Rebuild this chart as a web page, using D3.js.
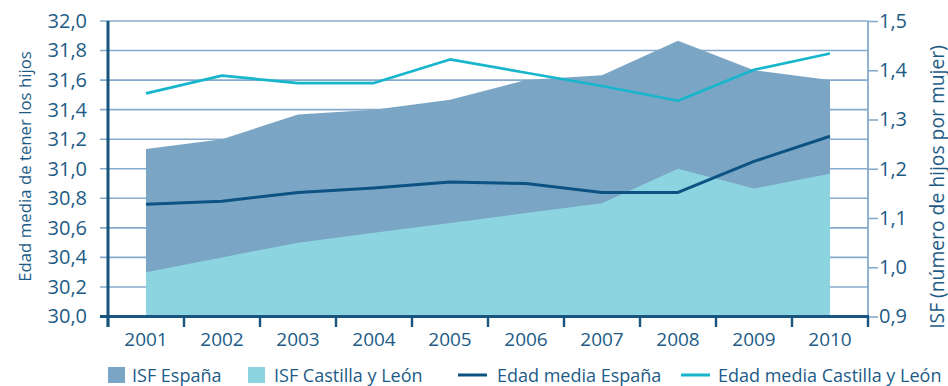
<!DOCTYPE html>
<html>
<head>
<meta charset="utf-8">
<script src="https://cdn.jsdelivr.net/npm/d3@7"></script>
<style>
  html, body { margin: 0; padding: 0; background: #fff; }
  svg { display: block; font-family: "Open Sans", sans-serif; }
</style>
</head>
<body>
<svg id="chart" width="948" height="386"></svg>
<script>
// Years on the horizontal axis
const years = ["2001", "2002", "2003", "2004", "2005", "2006", "2007", "2008", "2009", "2010"];

// Total fertility rate (children per woman), right axis
const isfEspana = [1.24, 1.26, 1.31, 1.32, 1.34, 1.38, 1.39, 1.46, 1.40, 1.38];
const isfCastillaLeon = [0.99, 1.02, 1.05, 1.07, 1.09, 1.11, 1.13, 1.20, 1.16, 1.19];

// Mean age of mothers at childbirth, left axis
const edadEspana = [30.76, 30.78, 30.84, 30.87, 30.91, 30.90, 30.84, 30.84, 31.05, 31.22];
const edadCastillaLeon = [31.51, 31.63, 31.58, 31.58, 31.74, 31.65, 31.56, 31.46, 31.67, 31.78];

// Axis ticks
const leftTicks = [30.0, 30.2, 30.4, 30.6, 30.8, 31.0, 31.2, 31.4, 31.6, 31.8, 32.0];
const rightTicks = [0.9, 1.0, 1.1, 1.2, 1.3, 1.4, 1.5];

const legendLabels = ["ISF España", "ISF Castilla y León", "Edad media España", "Edad media Castilla y León"];

const C = {
  text: "#1d5b86",
  grid: "#86aacb",
  axisDark: "#17557f",
  areaEs: "#7ba5c5",
  areaCyL: "#8cd5e0",
  lineEs: "#0c5283",
  lineCyL: "#17b6cd"
};

const es = d3.formatLocale({ decimal: ",", thousands: ".", grouping: [3], currency: ["", "€"] });
const fmt = es.format(".1f");

const svg = d3.select("#chart");
const plotL = 108, plotR = 868, plotT = 21, plotB = 316.5;

const x = d3.scaleBand().domain(years).range([plotL, plotR]).padding(0);
const cx = d => x(d) + x.bandwidth() / 2;
const yL = d3.scaleLinear().domain([30, 32]).range([plotB, plotT]);
const yR = d3.scaleLinear().domain([0.9, 1.5]).range([plotB, plotT]);

// Horizontal gridlines (extend slightly left as tick marks)
svg.append("g")
  .selectAll("line")
  .data(leftTicks.slice(1))
  .join("line")
  .attr("x1", plotL - 8).attr("x2", plotR)
  .attr("y1", d => yL(d)).attr("y2", d => yL(d))
  .attr("stroke", C.grid).attr("stroke-width", 1.6);

// Fertility areas
const areaGen = d3.area()
  .x((d, i) => cx(years[i]))
  .y0(yR(0.9))
  .y1(d => yR(d));
svg.append("path").datum(isfEspana).attr("d", areaGen).attr("fill", C.areaEs);
svg.append("path").datum(isfCastillaLeon).attr("d", areaGen).attr("fill", C.areaCyL);

// Mean age lines
const lineL = d3.line().x((d, i) => cx(years[i])).y(d => yL(d));
svg.append("path").datum(edadEspana).attr("d", lineL)
  .attr("fill", "none").attr("stroke", C.lineEs).attr("stroke-width", 3).attr("stroke-linejoin", "round");
svg.append("path").datum(edadCastillaLeon).attr("d", lineL)
  .attr("fill", "none").attr("stroke", C.lineCyL).attr("stroke-width", 2.7).attr("stroke-linejoin", "round");

// Right axis
const axR = svg.append("g").attr("transform", `translate(${plotR},0)`)
  .call(d3.axisRight(yR).tickValues(rightTicks).tickFormat(fmt).tickSize(10).tickPadding(1));
axR.select(".domain").attr("stroke", C.grid).attr("stroke-width", 1.8).attr("d", `M0,${plotT}V${plotB}`);
axR.selectAll(".tick line").attr("stroke", C.grid).attr("stroke-width", 1.6);
axR.selectAll(".tick text").attr("fill", C.text).attr("font-size", 20).attr("font-family", "Open Sans");

// Left axis
const axL = svg.append("g").attr("transform", `translate(${plotL},0)`)
  .call(d3.axisLeft(yL).tickValues(leftTicks).tickFormat(fmt).tickSize(0).tickPadding(21));
axL.select(".domain").attr("stroke", C.axisDark).attr("stroke-width", 3).attr("d", `M0,${plotT}V${plotB + 10.5}`);
axL.selectAll(".tick text").attr("fill", C.text).attr("font-size", 20).attr("font-family", "Open Sans");

// Bottom axis: labels centred in each year, ticks on year boundaries
const axB = svg.append("g").attr("transform", `translate(0,${plotB})`)
  .call(d3.axisBottom(x).tickSize(0).tickPadding(16));
axB.select(".domain").attr("stroke", C.axisDark).attr("stroke-width", 3).attr("d", `M${plotL - 8},0H${plotR + 1}`);
axB.selectAll(".tick text").attr("fill", C.text).attr("font-size", 19).attr("font-family", "Open Sans");
axB.append("g").selectAll("line")
  .data(years.map(d => x(d)).concat([plotR]))
  .join("line")
  .attr("x1", d => d).attr("x2", d => d)
  .attr("y1", 0).attr("y2", 10.5)
  .attr("stroke", C.axisDark).attr("stroke-width", 2.4);

// Axis titles
svg.append("text")
  .attr("transform", `translate(31,166.5) rotate(-90)`)
  .attr("text-anchor", "middle").attr("fill", C.text).attr("font-size", 16.8)
  .text("Edad media de tener los hijos");
svg.append("text")
  .attr("transform", `translate(943.5,187) rotate(-90)`)
  .attr("text-anchor", "middle").attr("fill", C.text).attr("font-size", 19.3)
  .text("ISF (número de hijos por mujer)");

// Legend
const lg = svg.append("g").attr("font-size", 18).attr("fill", C.text);
const items = [
  { type: "rect", color: C.areaEs, sx: 108, tx: 132 },
  { type: "rect", color: C.areaCyL, sx: 248, tx: 274 },
  { type: "line", color: C.lineEs, sx: 458, tx: 497 },
  { type: "line", color: C.lineCyL, sx: 681, tx: 718 }
];
items.forEach((it, i) => {
  if (it.type === "rect") {
    lg.append("rect").attr("x", it.sx).attr("y", 367).attr("width", 17).attr("height", 16).attr("fill", it.color);
  } else {
    lg.append("line").attr("x1", it.sx).attr("x2", it.sx + 29).attr("y1", 375).attr("y2", 375)
      .attr("stroke", it.color).attr("stroke-width", 3);
  }
  lg.append("text").attr("x", it.tx).attr("y", 381.5).text(legendLabels[i]);
});
</script>
</body>
</html>
